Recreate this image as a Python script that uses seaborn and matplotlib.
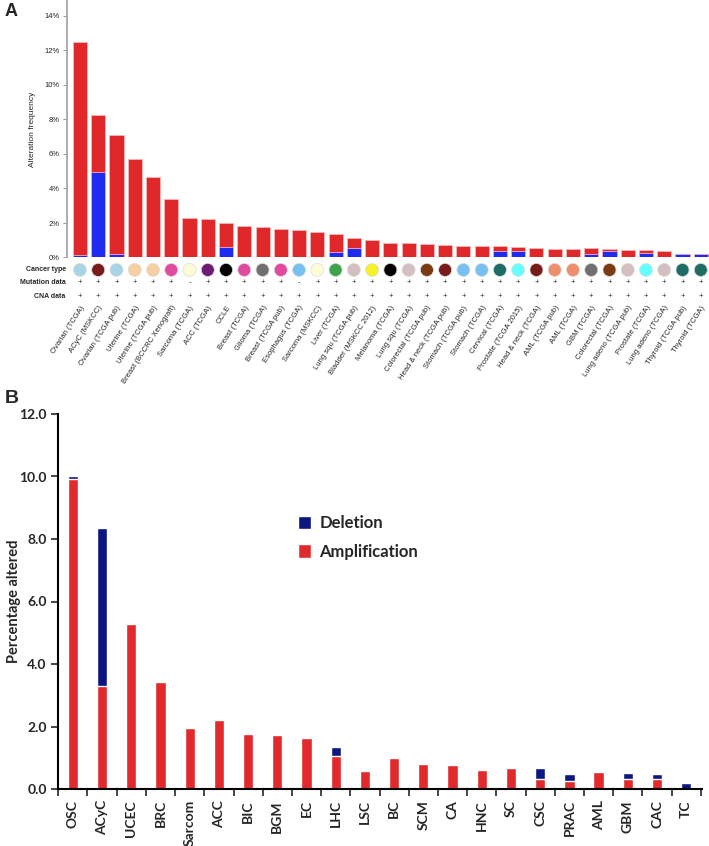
import numpy as np
import pandas as pd
import matplotlib
matplotlib.use('Agg')
import matplotlib.pyplot as plt
import seaborn as sns
from matplotlib.patches import Patch

sns.set_style('white')
plt.rcParams['font.family'] = ['Liberation Sans', 'DejaVu Sans']

# panel A data (cBioPortal style)
studies = ['Ovarian (TCGA)', 'ACyC (MSKCC)', 'Ovarian (TCGA pub)', 'Uterine (TCGA)',
           'Uterine (TCGA pub)', 'Breast (BCCRC Xenograft)', 'Sarcoma (TCGA)', 'ACC (TCGA)',
           'CCLE', 'Breast (TCGA)', 'Glioma (TCGA)', 'Breast (TCGA pub)', 'Esophagus (TCGA)',
           'Sarcoma (MSKCC)', 'Liver (TCGA)', 'Lung squ (TCGA pub)', 'Bladder (MSKCC 2012)',
           'Melanoma (TCGA)', 'Lung squ (TCGA)', 'Colorectal (TCGA pub)', 'Head & neck (TCGA pub)',
           'Stomach (TCGA pub)', 'Stomach (TCGA)', 'Cervical (TCGA)', 'Prostate (TCGA 2015)',
           'Head & neck (TCGA)', 'AML (TCGA pub)', 'AML (TCGA)', 'GBM (TCGA)', 'Colorectal (TCGA)',
           'Lung adeno (TCGA pub)', 'Prostate (TCGA)', 'Lung adeno (TCGA)', 'Thyroid (TCGA pub)',
           'Thyroid (TCGA)']
total_freq = [12.5, 8.26, 7.1, 5.7, 4.65, 3.41, 2.31, 2.21, 2.02, 1.83, 1.75, 1.65, 1.6, 1.46,
              1.34, 1.11, 1.01, 0.82, 0.82, 0.78, 0.7, 0.68, 0.68, 0.66, 0.63, 0.57, 0.51, 0.51,
              0.53, 0.49, 0.43, 0.41, 0.38, 0.2, 0.2]
blue_freq = [0.15, 4.97, 0.2, 0, 0, 0, 0, 0, 0.63, 0, 0, 0, 0, 0, 0.32, 0.57, 0, 0, 0, 0, 0,
             0, 0, 0.36, 0.36, 0, 0, 0, 0.2, 0.38, 0, 0.24, 0, 0.2, 0.2]
type_colors = ['#a8d5e5', '#7a1b1b', '#a8d5e5', '#f6cfa3', '#f6cfa3', '#e04a9f', '#fdfbd8',
               '#6c1c72', '#000000', '#e04a9f', '#707070', '#e04a9f', '#77c0f0', '#fdfbd8',
               '#3ea44c', '#d3bfbf', '#f6f02c', '#000000', '#d3bfbf', '#7b3b12', '#7a1b1b',
               '#77c0f0', '#77c0f0', '#1f6b65', '#66ffff', '#7a1b1b', '#ee8e6c', '#ee8e6c',
               '#707070', '#7b3b12', '#d3bfbf', '#66ffff', '#d3bfbf', '#1f6b65', '#1f6b65']
mutation = ['+'] * 35
mutation[6] = '-'
mutation[12] = '-'
cna = ['+'] * 35

# panel B data
cancers = ['OSC', 'ACyC', 'UCEC', 'BRC', 'Sarcom', 'ACC', 'BIC', 'BGM', 'EC', 'LHC', 'LSC',
           'BC', 'SCM', 'CA', 'HNC', 'SC', 'CSC', 'PRAC', 'AML', 'GBM', 'CAC', 'TC']
amplification = [9.92, 3.3, 5.29, 3.43, 1.95, 2.22, 1.77, 1.74, 1.62, 1.07, 0.57, 1.0, 0.81,
                 0.77, 0.61, 0.68, 0.32, 0.25, 0.53, 0.32, 0.32, 0.0]
deletion = [0.08, 5.04, 0, 0, 0, 0, 0, 0, 0, 0.26, 0.05, 0, 0, 0, 0, 0, 0.36, 0.24, 0, 0.19,
            0.17, 0.2]

W, H = 709, 846
fig = plt.figure(figsize=(7.09, 8.46), dpi=100)

def fx(px):
    return px / W

def fy(py):
    return 1 - py / H

red_a = '#e0282a'
blue_a = '#1f2cf0'

# ---- panel A bars
ax_a = fig.add_axes([fx(67), fy(257.5), 1 - fx(67), fy(257.5 - 14.9 * 17.25) - fy(257.5)])
dfa = pd.DataFrame({'study': studies, 'total': total_freq, 'blue': blue_freq})
sns.barplot(data=dfa, x='study', y='total', color=red_a, width=0.77, saturation=1,
            edgecolor='#f5b8b8', linewidth=0.6, ax=ax_a)
sns.barplot(data=dfa, x='study', y='blue', color=blue_a, width=0.77, saturation=1,
            edgecolor='#f0b0c8', linewidth=0.6, ax=ax_a)
ax_a.set_xlim(-0.71, 34.45)
ax_a.set_ylim(0, 14.9)
ax_a.set_yticks(np.arange(0, 15, 2))
ax_a.set_yticklabels([f'{v}%' for v in range(0, 15, 2)], fontsize=5.5)
ax_a.set_xticks([])
ax_a.set_xlabel('')
ax_a.set_ylabel('Alteration frequency', fontsize=6, labelpad=6)
for s in ['top', 'right', 'bottom']:
    ax_a.spines[s].set_visible(False)
ax_a.spines['left'].set_color('#a0a0a0')
ax_a.spines['left'].set_linewidth(1.2)
ax_a.tick_params(axis='y', left=True, length=3, width=0.6, color='#888888', pad=2)

# ---- panel A annotation rows
ax_r = fig.add_axes([fx(67), fy(303), 1 - fx(67), fy(262) - fy(303)])
xs = np.arange(len(studies))
ax_r.scatter(xs, [2.42] * len(xs), s=88, c=type_colors, edgecolors='#dddddd', linewidths=0.5,
             zorder=3)
for i in xs:
    ax_r.text(i, 1.47, mutation[i], ha='center', va='center', fontsize=5.5)
    ax_r.text(i, 0.45, cna[i], ha='center', va='center', fontsize=5.5)
for yy, lab in [(2.42, 'Cancer type'), (1.47, 'Mutation data'), (0.45, 'CNA data')]:
    ax_r.text(-0.002, yy, lab, transform=ax_r.get_yaxis_transform(), ha='right', va='center',
              fontsize=5, fontweight='bold')
ax_r.set_xlim(-0.71, 34.45)
ax_r.set_ylim(0, 3)
ax_r.set_yticks([])
ax_r.set_xticks(xs)
ax_r.set_xticklabels(studies, rotation=57, ha='right', rotation_mode='anchor', fontsize=5.5)
ax_r.tick_params(axis='x', length=0, pad=1)
for s in ax_r.spines.values():
    s.set_visible(False)
ax_r.patch.set_alpha(0)

fig.text(fx(5), fy(12), 'A', fontsize=13, fontweight='bold', va='center', ha='left')

# ---- panel B
ax_b = fig.add_axes([fx(58), fy(789), fx(702) - fx(58), fy(414) - fy(789)])
dfb = pd.DataFrame({'cancer': cancers, 'amp': amplification,
                    'total': np.array(amplification) + np.array(deletion)})
navy = '#0c167f'
red_b = '#e22a2c'
sns.barplot(data=dfb, x='cancer', y='total', color=navy, width=0.35, saturation=1, ax=ax_b)
sns.barplot(data=dfb, x='cancer', y='amp', color=red_b, width=0.35, saturation=1, ax=ax_b)
ax_b.set_xlim(-0.51, 21.54)
ax_b.set_ylim(0, 12)
ax_b.set_yticks(np.arange(0, 12.1, 2))
ax_b.set_yticklabels([f'{v:.1f}' for v in np.arange(0, 12.1, 2)], fontsize=10,
                     fontweight='bold', family='Lato')
ax_b.set_xticks(range(len(cancers)))
ax_b.set_xticklabels(cancers, rotation=90, fontsize=10, fontweight='bold', family='Lato')
ax_b.set_xticks(np.arange(-0.5, 21.6, 1), minor=True)
ax_b.tick_params(axis='x', which='major', length=0, pad=8)
ax_b.tick_params(axis='x', which='minor', bottom=True, length=5, width=1.2, direction='out')
ax_b.tick_params(axis='y', left=True, length=5, width=1.2, direction='out', pad=3)
ax_b.set_xlabel('')
ax_b.set_ylabel('Percentage altered', fontsize=10.5, fontweight='bold', family='Lato')
ax_b.yaxis.set_label_coords(-0.058, 0.5)
for s in ['top', 'right']:
    ax_b.spines[s].set_visible(False)
for s in ['left', 'bottom']:
    ax_b.spines[s].set_color('black')
    ax_b.spines[s].set_linewidth(1.5)

handles = [Patch(facecolor=navy, label='Deletion'), Patch(facecolor=red_b, label='Amplification')]
leg = ax_b.legend(handles=handles, loc='upper left', bbox_to_anchor=(0.35, 0.77), frameon=False,
                  handlelength=0.75, handleheight=0.9, handletextpad=0.5, labelspacing=0.75,
                  prop={'family': 'Lato', 'weight': 'bold', 'size': 12})

fig.text(fx(5), fy(398), 'B', fontsize=14, fontweight='bold', va='center', ha='left')

fig.savefig('out.png', dpi=100)
